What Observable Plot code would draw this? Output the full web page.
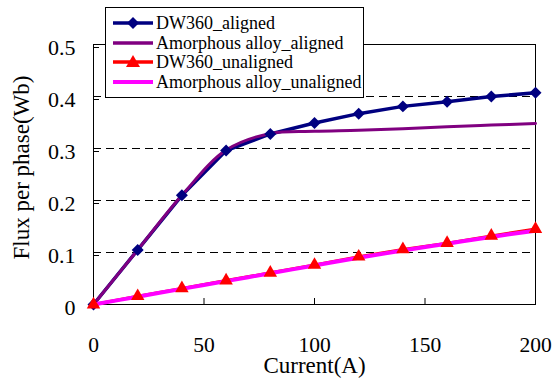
<!DOCTYPE html>
<html>
<head>
<meta charset="utf-8">
<script src="https://cdn.jsdelivr.net/npm/d3@7"></script>
<script src="https://cdn.jsdelivr.net/npm/@observablehq/plot@0.6"></script>
</head>
<body style="margin:0;padding:0;background:white">
<div id="wrap" style="position:relative;width:553px;height:385px;font-family:'Liberation Serif',serif">
  <div id="legend" style="position:absolute;left:105px;top:7px;width:257px;height:89px;border:1px solid black;background:white"></div>
</div>
<script>
const current = [0, 20, 40, 60, 80, 100, 120, 140, 160, 180, 200];
const dw360Aligned = [0, 0.105, 0.21, 0.296, 0.328, 0.349, 0.367, 0.381, 0.39, 0.4, 0.407];
const amorphousAligned = [0, 0.105, 0.21, 0.297, 0.329, 0.333, 0.335, 0.338, 0.342, 0.345, 0.348];
const dw360Unaligned = [0, 0.016, 0.031, 0.046, 0.061, 0.076, 0.092, 0.106, 0.118, 0.132, 0.145];
const amorphousUnaligned = [0, 0.015, 0.030, 0.045, 0.060, 0.075, 0.090, 0.104, 0.117, 0.130, 0.142];
const seriesNames = ["DW360_aligned", "Amorphous alloy_aligned", "DW360_unaligned", "Amorphous alloy_unaligned"];
const seriesColors = ["#000080", "#800080", "#ff0000", "#ff00ff"];
const xTicks = [0, 50, 100, 150, 200];
const yTicks = [0, 0.1, 0.2, 0.3, 0.4, 0.5];
const gridY = [0.1, 0.2, 0.3, 0.4];

const toRows = (vals) => current.map((x, i) => ({x, y: vals[i]}));
const dA = toRows(dw360Aligned), aA = toRows(amorphousAligned), dU = toRows(dw360Unaligned), aU = toRows(amorphousUnaligned);
const FF = "Liberation Serif";

const chart = Plot.plot({
  width: 553, height: 385,
  marginLeft: 93, marginRight: 18, marginTop: 44, marginBottom: 81,
  style: {fontFamily: FF, fontSize: "22px", color: "black", background: "transparent"},
  x: {domain: [0, 200]},
  y: {domain: [0, 0.5]},
  marks: [
    Plot.ruleY(gridY, {stroke: "black", strokeWidth: 1, strokeDasharray: "8,5"}),
    Plot.frame({stroke: "black", strokeWidth: 1}),
    Plot.axisX(xTicks, {tickSize: -6, tickPadding: 38, tickFormat: d => String(d), label: null, fontSize: 21.5}),
    Plot.axisY(yTicks, {tickSize: -6, tickPadding: 24, tickFormat: d => d === 0 ? "0" : d.toFixed(1), label: null, fontSize: 22, dy: 3}),
    Plot.text(["Current(A)"], {text: d => d, frameAnchor: "bottom", lineAnchor: "middle", textAnchor: "middle", dy: 61, fontSize: 23}),
    Plot.text(["Flux per phase(Wb)"], {text: d => d, frameAnchor: "left", lineAnchor: "middle", textAnchor: "middle", rotate: -90, dx: -72, dy: -7, fontSize: 23}),
    Plot.line(dA, {x: "x", y: "y", stroke: seriesColors[0], strokeWidth: 3.5}),
    Plot.line(aA, {x: "x", y: "y", stroke: seriesColors[1], strokeWidth: 3, curve: "catmull-rom"}),
    Plot.dot(dA, {x: "x", y: "y", symbol: "diamond2", r: 5.4, fill: seriesColors[0], stroke: "none"}),
    Plot.line(dU, {x: "x", y: "y", stroke: seriesColors[2], strokeWidth: 3}),
    Plot.line(aU, {x: "x", y: "y", stroke: seriesColors[3], strokeWidth: 4, curve: "catmull-rom"}),
    Plot.dot(dU, {x: "x", y: "y", symbol: "triangle", r: 5, fill: seriesColors[2], stroke: "none"})
  ]
});
const wrap = document.getElementById("wrap");
wrap.insertBefore(chart, document.getElementById("legend"));

const legend = document.getElementById("legend");
const markers = ["diamond", null, "triangle", null];
seriesNames.forEach((name, i) => {
  const row = document.createElement("div");
  row.style.cssText = `position:absolute;left:0;top:${5 + i * 19.6}px;height:20px;display:flex;align-items:center`;
  let marker = "";
  if (markers[i] === "diamond") marker = `<path d="M20,4 L26,10 L20,16 L14,10 Z" fill="${seriesColors[i]}"/>`;
  if (markers[i] === "triangle") marker = `<path d="M20,3 L27,15 L13,15 Z" fill="${seriesColors[i]}"/>`;
  row.innerHTML = `<svg width="40" height="20" style="margin-left:7px;margin-right:3px"><line x1="0" x2="40" y1="10" y2="10" stroke="${seriesColors[i]}" stroke-width="${i === 3 ? 4 : 3.5}"/>${marker}</svg><span style="font-family:'Liberation Serif',serif;font-size:18px;line-height:20px;color:black;white-space:nowrap">${name}</span>`;
  legend.appendChild(row);
});
</script>
</body>
</html>
